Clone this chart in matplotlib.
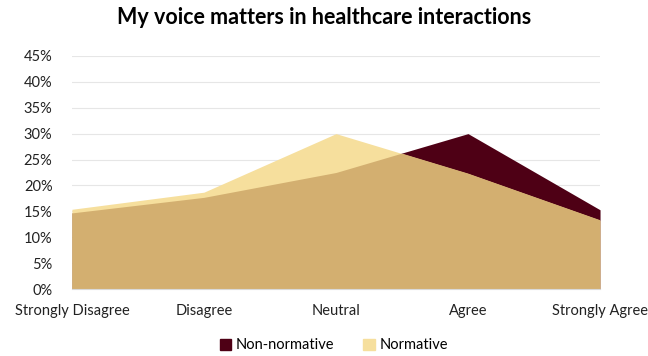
import numpy as np
import matplotlib.pyplot as plt
from matplotlib.patches import Patch
from matplotlib.ticker import PercentFormatter

plt.rcParams['font.family'] = ['Lato', 'DejaVu Sans']

# Survey responses
categories = ["Strongly Disagree", "Disagree", "Neutral", "Agree", "Strongly Agree"]
non_normative = [14.7, 17.7, 22.5, 30.0, 15.3]
normative = [15.4, 18.7, 30.0, 22.3, 13.3]

MAROON = "#4E0015"
YELLOW = "#F6DF9D"
TAN = "#D3AF70"

x = np.arange(len(categories))
nn = np.array(non_normative) / 100
nm = np.array(normative) / 100

fig = plt.figure(figsize=(6.48, 3.56), dpi=100)
ax = fig.add_axes([0.111, 0.188, 0.815, 0.655])

ax.fill_between(x, 0, nn, color=MAROON, lw=0)
yellow = ax.fill_between(x, 0, nm, color=YELLOW, lw=0)
# overlap of both series: the non-normative area clipped to the normative one
overlap = ax.fill_between(x, 0, nn, color=TAN, lw=0)
overlap.set_clip_path(yellow.get_paths()[0], ax.transData)

ax.set_xlim(0, len(categories) - 1)
ax.set_ylim(0, 0.45)
ax.set_yticks(np.arange(0, 0.451, 0.05))
ax.yaxis.set_major_formatter(PercentFormatter(1.0, decimals=0))
ax.set_xticks(x)
ax.set_xticklabels(categories)
ax.grid(axis='y', color='#E6E6E6', lw=0.8)
ax.set_axisbelow(True)
for s in ['top', 'right', 'left']:
    ax.spines[s].set_visible(False)
ax.spines['bottom'].set_color('#D9D9D9')
ax.tick_params(length=0, labelsize=10.5, colors='#222222')
ax.tick_params(axis='x', pad=11)
ax.tick_params(axis='y', pad=14)

fig.suptitle("My voice matters in healthcare interactions", x=0.5, y=0.98,
             fontsize=15.5, fontweight='bold')

handles = [Patch(color=MAROON, label="Non-normative"),
           Patch(color=YELLOW, label="Normative")]
fig.legend(handles=handles, loc='center', bbox_to_anchor=(0.515, 0.03), ncol=2,
           frameon=False, fontsize=10.5, handlelength=0.8, handleheight=0.8,
           columnspacing=2.0, handletextpad=0.3)

fig.savefig("out.png", dpi=100)
